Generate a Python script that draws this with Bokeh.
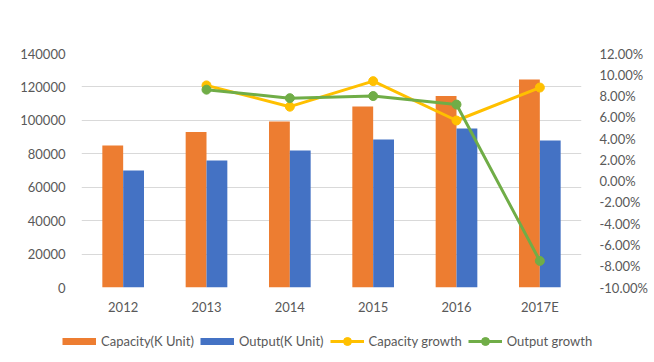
from bokeh.plotting import figure
from bokeh.layouts import column
from bokeh.models import (FactorRange, Range1d, LinearAxis, FixedTicker, NumeralTickFormatter,
                          Legend, LegendItem, ColumnDataSource)
from bokeh.transform import dodge
from bokeh.embed import file_html
from bokeh.resources import INLINE

years = ["2012", "2013", "2014", "2015", "2016", "2017E"]
capacity = [85000, 93000, 99300, 108300, 114500, 124400]
output = [70000, 76000, 82000, 88500, 95100, 88000]
growth_years = ["2013", "2014", "2015", "2016", "2017E"]
capacity_growth = [0.090, 0.070, 0.094, 0.057, 0.088]
output_growth = [0.086, 0.078, 0.080, 0.072, -0.075]
left_ticks = [0, 20000, 40000, 60000, 80000, 100000, 120000, 140000]
right_ticks = [-0.10, -0.08, -0.06, -0.04, -0.02, 0.0, 0.02, 0.04, 0.06, 0.08, 0.10, 0.12]
series_labels = ["Capacity(K Unit)", "Output(K Unit)", "Capacity growth", "Output growth"]

ORANGE = "#ED7D31"
BLUE = "#4472C4"
YELLOW = "#FFC000"
GREEN = "#70AD47"
TEXT = "#595959"
FONT = "Lato"

p = figure(x_range=FactorRange(*years), y_range=Range1d(0, 140000),
           width=650, height=320, output_backend="svg", toolbar_location=None,
           min_border_left=81, min_border_right=69, min_border_top=53, min_border_bottom=33)
p.extra_y_ranges = {"pct": Range1d(-0.10, 0.12)}
p.outline_line_color = None

src = ColumnDataSource(dict(year=years, capacity=capacity, output=output))
p.vbar(x=dodge("year", -0.125, range=p.x_range), top="capacity", width=0.25, source=src,
       fill_color=ORANGE, line_color=None)
p.vbar(x=dodge("year", 0.125, range=p.x_range), top="output", width=0.25, source=src,
       fill_color=BLUE, line_color=None)

p.line(growth_years, capacity_growth, y_range_name="pct", line_color=YELLOW, line_width=3)
p.scatter(growth_years, capacity_growth, y_range_name="pct", size=9,
          fill_color=YELLOW, line_color=YELLOW)
p.line(growth_years, output_growth, y_range_name="pct", line_color=GREEN, line_width=3)
p.scatter(growth_years, output_growth, y_range_name="pct", size=9,
          fill_color=GREEN, line_color=GREEN)

# left axis
p.yaxis.ticker = FixedTicker(ticks=left_ticks)
p.yaxis.formatter = NumeralTickFormatter(format="0")
# right axis
rax = LinearAxis(y_range_name="pct", ticker=FixedTicker(ticks=right_ticks),
                 formatter=NumeralTickFormatter(format="0.00%"))
p.add_layout(rax, "right")

for ax in p.axis:
    ax.axis_line_color = None
    ax.major_tick_line_color = None
    ax.minor_tick_line_color = None
    ax.major_label_text_font = FONT
    ax.major_label_text_font_size = "13px"
    ax.major_label_text_color = TEXT
p.yaxis[0].major_label_standoff = 10
rax.major_label_standoff = 12
p.xaxis.major_label_standoff = 5

p.xgrid.grid_line_color = None
p.ygrid.grid_line_color = "#D9D9D9"
p.ygrid.grid_line_width = 1

# legend strip below the chart
lg = figure(width=650, height=38, output_backend="svg", toolbar_location=None,
            x_axis_type=None, y_axis_type=None,
            x_range=Range1d(0, 1), y_range=Range1d(0, 1),
            min_border_left=0, min_border_right=0, min_border_top=0, min_border_bottom=0)
lg.outline_line_color = None
if "frame_align" in lg.properties():
    lg.frame_align = False
    p.frame_align = False

# legend swatches (their data lie outside the strip's visible range)
key_src = ColumnDataSource(dict(x=[5, 6], y=[5, 5]))
k_cap = lg.line(x="x", y="y", source=key_src, line_color=ORANGE, line_width=7)
k_out = lg.line(x="x", y="y", source=key_src, line_color=BLUE, line_width=7)
k_cg_l = lg.line(x="x", y="y", source=key_src, line_color=YELLOW, line_width=3)
k_cg_p = lg.scatter(x="x", y="y", source=key_src, fill_color=YELLOW, line_color=YELLOW)
k_og_l = lg.line(x="x", y="y", source=key_src, line_color=GREEN, line_width=3)
k_og_p = lg.scatter(x="x", y="y", source=key_src, fill_color=GREEN, line_color=GREEN)

legend = Legend(items=[
    LegendItem(label=series_labels[0], renderers=[k_cap]),
    LegendItem(label=series_labels[1], renderers=[k_out]),
    LegendItem(label=series_labels[2], renderers=[k_cg_l, k_cg_p]),
    LegendItem(label=series_labels[3], renderers=[k_og_l, k_og_p]),
], orientation="horizontal", location=(62, 7), glyph_width=34, glyph_height=20,
    label_standoff=5, spacing=6, padding=0, margin=0, border_line_color=None,
    background_fill_alpha=0, label_text_font=FONT, label_text_font_size="13px",
    label_text_color=TEXT)
lg.add_layout(legend)

open("out.html", "w").write(file_html(column(p, lg, spacing=0), INLINE))
